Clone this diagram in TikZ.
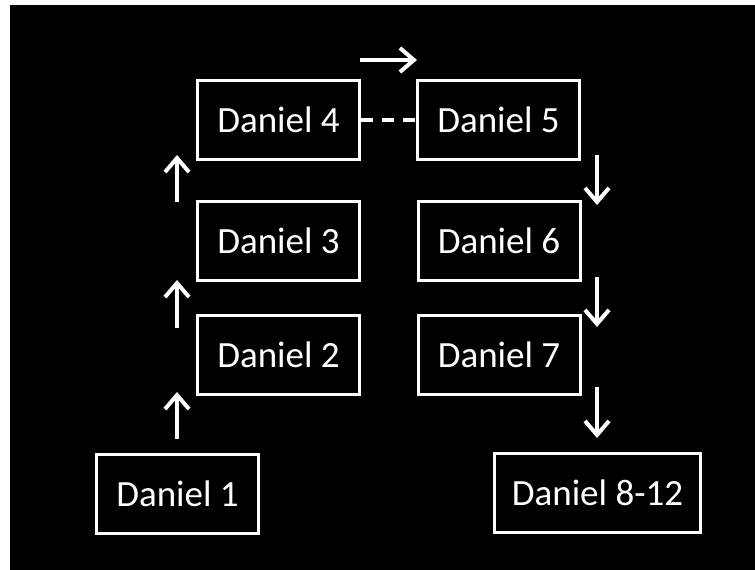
\documentclass[tikz,border=0pt]{standalone}
\usepackage{fontspec}
\setmainfont{Carlito}
\usetikzlibrary{arrows.meta,calc}
\tikzstyle{box} =[draw=white, line width=3pt, text=white,
                  minimum width=162pt, minimum height=79pt,
                  inner sep=0pt, font=\fontsize{37}{40}\selectfont]
\tikzstyle{flow}=[white, line width=4pt,
                  -{Straight Barb[length=14pt,width=24pt]}]
\begin{document}
\begin{tikzpicture}[x=1pt, y=-1pt]
        \useasboundingbox (0,0) rectangle (755,570);
        \fill[black] (10,5) rectangle (755,570);

        \node[box] (1) at (177.5,494) {Daniel 1};
        \node[box] (2) at (278.5,355) {Daniel 2};
        \node[box] (3) at (278.5,240.5) {Daniel 3};
        \node[box] (4) at (278.5,120) {Daniel 4};
        \node[box] (5) at (498.5,120) {Daniel 5};
        \node[box] (6) at (499,240.5) {Daniel 6};
        \node[box] (7) at (499,355) {Daniel 7};
        \node[box, minimum width=206pt] (8) at (597.5,493) {Daniel 8-12};

        % arrow ends
        \coordinate (u1) at (177,439);  \coordinate (v1) at (177,392);
        \coordinate (u2) at (177,328);  \coordinate (v2) at (177,280);
        \coordinate (u3) at (177,202);  \coordinate (v3) at (177,155);
        \coordinate (r1) at (360,60);   \coordinate (r2) at (417,60);
        \coordinate (d1) at (597,155);  \coordinate (e1) at (597,205);
        \coordinate (d2) at (597,277);  \coordinate (e2) at (597,327);
        \coordinate (d3) at (597,387);  \coordinate (e3) at (597,438);

        \draw[flow] (u1) to (v1);
        \draw[flow] (u2) to (v2);
        \draw[flow] (u3) to (v3);
        \draw[flow] (r1) to (r2);
        \draw[flow] (d1) to (e1);
        \draw[flow] (d2) to (e2);
        \draw[flow] (d3) to (e3);

        \draw[white, line width=4pt, dash pattern=on 12pt off 9pt] (4) to (5);
\end{tikzpicture}
\end{document}
